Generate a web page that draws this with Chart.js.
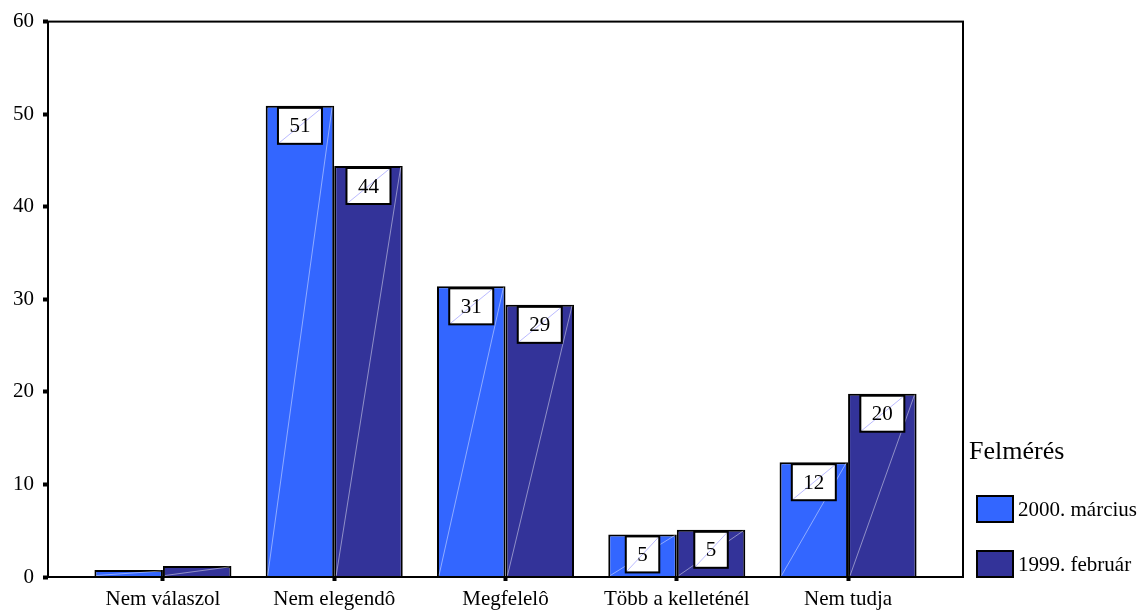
<!DOCTYPE html>
<html>
<head>
<meta charset="utf-8">
<script src="https://cdn.jsdelivr.net/npm/chart.js@4/dist/chart.umd.min.js"></script>
<style>
    html, body { margin: 0; padding: 0; background: #fff; }
    #wrap { width: 1144px; height: 611px; position: relative; }
</style>
</head>
<body>
<div id="wrap"><canvas id="chart"></canvas></div>
<script>
// Chart data
const categories = ['Nem válaszol', 'Nem elegendô', 'Megfelelô', 'Több a kelleténél', 'Nem tudja'];
const seriesNames = ['2000. március', '1999. február'];
const march2000 = [0.75, 50.9, 31.4, 4.6, 12.4];
const feb1999 = [1.2, 44.4, 29.4, 5.1, 19.8];
const yTicks = [0, 10, 20, 30, 40, 50, 60];
const legendTitle = 'Felmérés';

const serif = '"Liberation Serif", "Times New Roman", serif';

// bars sit on a numeric axis so the side margins match the original
const toPoints = arr => arr.map((v, i) => ({ x: i, y: v }));

// Frame around the plot area
const framePlugin = {
    id: 'frame',
    afterDraw(chart) {
        const { ctx, chartArea: a } = chart;
        ctx.save();
        ctx.strokeStyle = '#000';
        ctx.lineWidth = 2;
        ctx.strokeRect(a.left, a.top, a.right - a.left, a.bottom - a.top);
        ctx.restore();
    }
};

// Diagonal streaks and boxed value labels on the bars
const boxLabelPlugin = {
    id: 'boxLabels',
    afterDatasetsDraw(chart) {
        const ctx = chart.ctx;
        ctx.save();
        chart.data.datasets.forEach((ds, di) => {
            const meta = chart.getDatasetMeta(di);
            meta.data.forEach((bar, i) => {
                const value = ds.data[i].y;
                const left = bar.x - bar.width / 2;
                const right = bar.x + bar.width / 2;
                // faint streak
                ctx.strokeStyle = 'rgba(255,255,255,0.45)';
                ctx.lineWidth = 1;
                ctx.beginPath();
                ctx.moveTo(left + 2, bar.base - 1);
                ctx.lineTo(right - 2, bar.y + 1);
                ctx.stroke();

                if (value < 2) return;
                const text = String(Math.round(value));
                ctx.font = '21px ' + serif;
                const w = ctx.measureText(text).width + 23;
                const h = 36;
                const bx = bar.x - w / 2;
                const by = bar.y + 2;
                ctx.fillStyle = '#fff';
                ctx.fillRect(bx, by, w, h);
                ctx.strokeStyle = 'rgba(140,140,255,0.6)';
                ctx.lineWidth = 1;
                ctx.beginPath();
                ctx.moveTo(bx, by + h);
                ctx.lineTo(bx + w, by);
                ctx.stroke();
                ctx.strokeStyle = '#000';
                ctx.lineWidth = 2;
                ctx.strokeRect(bx, by, w, h);
                ctx.fillStyle = '#000';
                ctx.textAlign = 'center';
                ctx.textBaseline = 'middle';
                ctx.fillText(text, bar.x, by + h / 2 + 1);
            });
        });
        ctx.restore();
    }
};

// Legend on the right side
const sideLegendPlugin = {
    id: 'sideLegend',
    afterDraw(chart) {
        const ctx = chart.ctx;
        ctx.save();
        ctx.fillStyle = '#000';
        ctx.textBaseline = 'middle';
        ctx.textAlign = 'left';
        ctx.font = '26px ' + serif;
        ctx.fillText(legendTitle, 969, 452);
        ctx.font = '21px ' + serif;
        chart.data.datasets.forEach((ds, i) => {
            const y = 496 + i * 55;
            ctx.fillStyle = ds.backgroundColor;
            ctx.fillRect(977, y, 36, 26);
            ctx.strokeStyle = '#000';
            ctx.lineWidth = 2;
            ctx.strokeRect(977, y, 36, 26);
            ctx.fillStyle = '#000';
            ctx.fillText(ds.label, 1018, y + 14);
        });
        ctx.restore();
    }
};

const ctx = document.getElementById('chart').getContext('2d');
const chart = new Chart(ctx, {
    type: 'bar',
    data: {
        datasets: [
            {
                label: seriesNames[0],
                data: toPoints(march2000),
                backgroundColor: '#3366ff',
                borderColor: '#000',
                borderWidth: 2,
                borderSkipped: 'bottom'
            },
            {
                label: seriesNames[1],
                data: toPoints(feb1999),
                backgroundColor: '#333399',
                borderColor: '#000',
                borderWidth: 2,
                borderSkipped: 'bottom'
            }
        ]
    },
    options: {
        responsive: true,
        maintainAspectRatio: false,
        animation: false,
        layout: { padding: { top: 19, right: 181, bottom: 0, left: 0 } },
        plugins: {
            legend: { display: false },
            tooltip: { enabled: false }
        },
        datasets: {
            bar: { categoryPercentage: 0.8, barPercentage: 1.0 }
        },
        scales: {
            x: {
                type: 'linear',
                min: -0.671,
                max: 4.671,
                offset: false,
                border: { display: false },
                afterBuildTicks(scale) {
                    scale.ticks = categories.map((c, i) => ({ value: i }));
                },
                grid: {
                    display: true,
                    offset: false,
                    drawOnChartArea: false,
                    tickLength: 4,
                    tickWidth: 4,
                    tickColor: '#000'
                },
                ticks: {
                    color: '#000',
                    padding: 6,
                    maxRotation: 0,
                    autoSkip: false,
                    font: { family: serif, size: 21 },
                    callback: value => categories[value]
                },
                afterFit(scale) { scale.height = 34; }
            },
            y: {
                min: 0,
                max: 60,
                border: { display: false },
                afterBuildTicks(scale) {
                    scale.ticks = yTicks.map(v => ({ value: v }));
                },
                grid: {
                    display: true,
                    drawOnChartArea: false,
                    tickLength: 5,
                    tickWidth: 4,
                    tickColor: '#000'
                },
                ticks: {
                    color: '#000',
                    padding: 9,
                    font: { family: serif, size: 21 }
                },
                afterFit(scale) { scale.width = 48; }
            }
        }
    },
    plugins: [framePlugin, boxLabelPlugin, sideLegendPlugin]
});
</script>
</body>
</html>
